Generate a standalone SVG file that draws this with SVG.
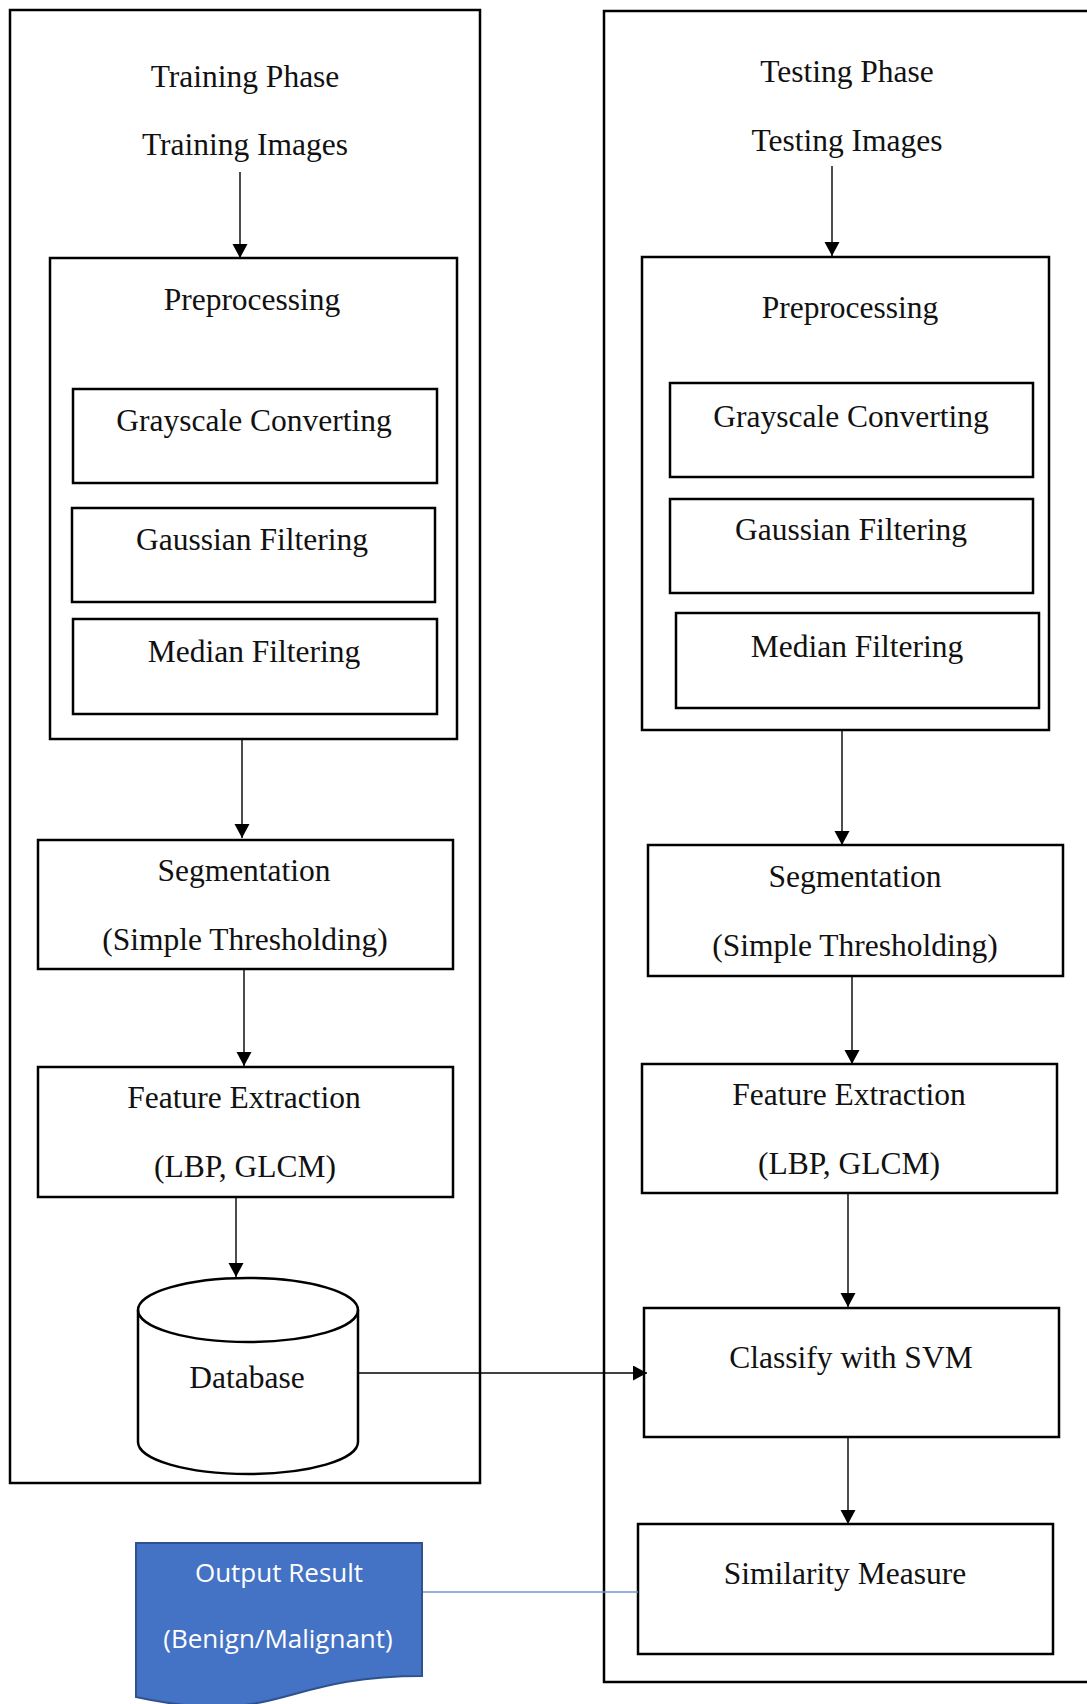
<svg xmlns="http://www.w3.org/2000/svg" width="1087" height="1704" viewBox="0 0 1087 1704">
  <style>
    .frame { fill: none; stroke: #000; stroke-width: 2.5; }
    .box { fill: #fff; stroke: #000; stroke-width: 2.5; }
    .lbl { font-family: "Liberation Serif", "Times New Roman", serif; font-size: 31.5px; fill: #111; text-anchor: middle; }
    .wlbl { font-family: "Open Sans", "Noto Sans", sans-serif; font-size: 26px; fill: #fff; text-anchor: middle; }
    .flow { stroke: #000; stroke-width: 1.4; fill: none; }
    .link { stroke: #7096D4; stroke-width: 1.6; fill: none; }
  </style>
  <defs>
    <marker id="arrow" markerUnits="userSpaceOnUse" markerWidth="16" markerHeight="16" refX="14" refY="7.5" orient="auto">
      <path d="M0,0 L14,7.5 L0,15 Z" fill="#000"/>
    </marker>
  </defs>
  <rect width="1087" height="1704" fill="#fff"/>

  <!-- training column -->
  <g id="training-phase">
    <rect class="frame" x="10" y="10" width="470" height="1473"/>
    <text class="lbl" x="245" y="87">Training Phase</text>
  </g>
  <g id="training-images">
    <text class="lbl" x="245" y="155">Training Images</text>
  </g>
  <g id="train-preprocessing">
    <rect class="box" x="50" y="258" width="407" height="481"/>
    <text class="lbl" x="252" y="310">Preprocessing</text>
  </g>
  <g id="train-grayscale">
    <rect class="box" x="73" y="389" width="364" height="94"/>
    <text class="lbl" x="254" y="431">Grayscale Converting</text>
  </g>
  <g id="train-gaussian">
    <rect class="box" x="72" y="508" width="363" height="94"/>
    <text class="lbl" x="252" y="550">Gaussian Filtering</text>
  </g>
  <g id="train-median">
    <rect class="box" x="73" y="619" width="364" height="95"/>
    <text class="lbl" x="254" y="662">Median Filtering</text>
  </g>
  <g id="train-segmentation">
    <rect class="box" x="38" y="840" width="415" height="129"/>
    <text class="lbl" x="244" y="881">Segmentation</text>
    <text class="lbl" x="245" y="950">(Simple Thresholding)</text>
  </g>
  <g id="train-features">
    <rect class="box" x="38" y="1067" width="415" height="130"/>
    <text class="lbl" x="244" y="1108">Feature Extraction</text>
    <text class="lbl" x="245" y="1177">(LBP, GLCM)</text>
  </g>
  <g id="database">
    <path class="box" d="M138,1310 A110,32 0 0 1 358,1310 V1442 A110,32 0 0 1 138,1442 Z"/>
    <path class="frame" d="M138,1310 A110,32 0 0 0 358,1310"/>
    <text class="lbl" x="247" y="1388">Database</text>
  </g>

  <!-- testing column -->
  <g id="testing-phase">
    <rect class="frame" x="604" y="11" width="500" height="1671"/>
    <text class="lbl" x="847" y="82">Testing Phase</text>
  </g>
  <g id="testing-images">
    <text class="lbl" x="847" y="151">Testing Images</text>
  </g>
  <g id="test-preprocessing">
    <rect class="box" x="642" y="257" width="407" height="473"/>
    <text class="lbl" x="850" y="318">Preprocessing</text>
  </g>
  <g id="test-grayscale">
    <rect class="box" x="670" y="383" width="363" height="94"/>
    <text class="lbl" x="851" y="427">Grayscale Converting</text>
  </g>
  <g id="test-gaussian">
    <rect class="box" x="670" y="499" width="363" height="94"/>
    <text class="lbl" x="851" y="540">Gaussian Filtering</text>
  </g>
  <g id="test-median">
    <rect class="box" x="676" y="613" width="363" height="95"/>
    <text class="lbl" x="857" y="657">Median Filtering</text>
  </g>
  <g id="test-segmentation">
    <rect class="box" x="648" y="845" width="415" height="131"/>
    <text class="lbl" x="855" y="887">Segmentation</text>
    <text class="lbl" x="855" y="956">(Simple Thresholding)</text>
  </g>
  <g id="test-features">
    <rect class="box" x="642" y="1064" width="415" height="129"/>
    <text class="lbl" x="849" y="1105">Feature Extraction</text>
    <text class="lbl" x="849" y="1174">(LBP, GLCM)</text>
  </g>
  <g id="classify-svm">
    <rect class="box" x="644" y="1308" width="415" height="129"/>
    <text class="lbl" x="851" y="1368">Classify with SVM</text>
  </g>
  <g id="similarity">
    <rect class="box" x="638" y="1524" width="415" height="130"/>
    <text class="lbl" x="845" y="1584">Similarity Measure</text>
  </g>

  <!-- result document shape -->
  <g id="output-result">
    <path d="M136,1543 H422 V1676 C279,1676 279,1728 136,1697 Z" fill="#4472C4" stroke="#2F528F" stroke-width="2"/>
    <text class="wlbl" x="279" y="1582">Output Result</text>
    <text class="wlbl" x="278" y="1648">(Benign/Malignant)</text>
  </g>

  <!-- connectors -->
  <g id="connectors">
    <line class="flow" x1="240" y1="172" x2="240" y2="258" marker-end="url(#arrow)"/>
    <line class="flow" x1="242" y1="740" x2="242" y2="838" marker-end="url(#arrow)"/>
    <line class="flow" x1="244" y1="970" x2="244" y2="1066" marker-end="url(#arrow)"/>
    <line class="flow" x1="236" y1="1198" x2="236" y2="1277" marker-end="url(#arrow)"/>
    <line class="flow" x1="358" y1="1373" x2="647" y2="1373" marker-end="url(#arrow)"/>
    <line class="flow" x1="832" y1="166" x2="832" y2="256" marker-end="url(#arrow)"/>
    <line class="flow" x1="842" y1="731" x2="842" y2="845" marker-end="url(#arrow)"/>
    <line class="flow" x1="852" y1="977" x2="852" y2="1064" marker-end="url(#arrow)"/>
    <line class="flow" x1="848" y1="1194" x2="848" y2="1307" marker-end="url(#arrow)"/>
    <line class="flow" x1="848" y1="1438" x2="848" y2="1524" marker-end="url(#arrow)"/>
    <line class="link" x1="423" y1="1592" x2="638" y2="1592"/>
  </g>
</svg>
